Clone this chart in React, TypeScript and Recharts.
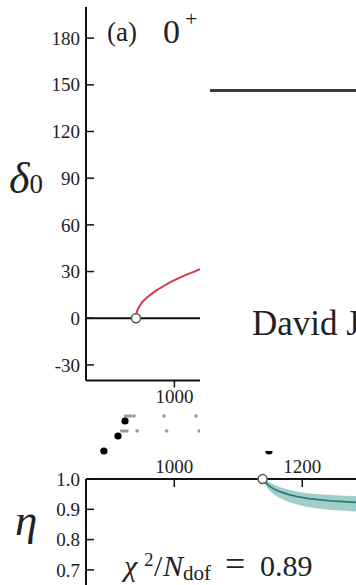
import React from 'react';
import { ComposedChart, ScatterChart, Line, Area, Scatter, XAxis, YAxis, ReferenceLine, ReferenceDot } from 'recharts';

const SERIF = '"Liberation Serif", "Times New Roman", serif';
const INK = '#222';

// panel (a): phase shift delta_0 (degrees) against E_cm (MeV)
const deltaEnergy = [940, 941, 943, 946, 950, 956, 963, 972, 982, 993, 1006, 1020, 1030, 1040];
const deltaDeg = [0, 3.5, 6, 8, 10.5, 12.8, 15.2, 17.9, 20.4, 23, 25.6, 28.2, 29.8, 31.5];
const deltaTicks = [-30, 0, 30, 60, 90, 120, 150, 180];
const deltaThreshold = 940;

// inelasticity eta with its error band
const etaEnergy = [1138, 1142, 1148, 1155, 1165, 1178, 1192, 1208, 1225, 1245, 1265, 1284];
const etaMid = [1.0, 0.99, 0.978, 0.968, 0.958, 0.949, 0.942, 0.936, 0.932, 0.928, 0.925, 0.923];
const etaHigh = [1.0, 0.997, 0.99, 0.982, 0.973, 0.965, 0.958, 0.953, 0.95, 0.947, 0.945, 0.944];
const etaLow = [1.0, 0.982, 0.963, 0.95, 0.937, 0.925, 0.916, 0.908, 0.903, 0.898, 0.895, 0.893];
const etaTicks = [0.7, 0.8, 0.9, 1.0];
const etaThreshold = 1138;
const energyTicks = [1000, 1200];

// spectrum levels peeking out between the panels
const blackE = [890, 912, 923, 1148];
const blackRow = [9, 24, 39, 9];
const grayE = [924, 928, 932, 937, 984, 1034, 918, 922, 926, 942, 988, 1039];
const grayRow = [44, 44, 44, 44, 44, 44, 29, 29, 29, 29, 29, 29];

const deltaData = deltaEnergy.map((e, i) => ({ e, delta: deltaDeg[i] }));
const etaData = etaEnergy.map((e, i) => ({ e, eta: etaMid[i], band: [etaLow[i], etaHigh[i]] }));
const blackData = blackE.map((e, i) => ({ e, row: blackRow[i] }));
const grayData = grayE.map((e, i) => ({ e, row: grayRow[i] }));

// y ticks point into the plot, labels sit left of the axis
const LeftTick = (props: any) => {
  const { x, y, payload, digits } = props;
  const label = digits ? Number(payload.value).toFixed(digits) : String(payload.value);
  return (
    <g>
      <line x1={x + 6} x2={x + 14} y1={y} y2={y} stroke="#111" strokeWidth={1.5} />
      <text x={x} y={y} dy="0.35em" textAnchor="end" fill={INK} fontSize={19} fontFamily={SERIF}>
        {label}
      </text>
    </g>
  );
};

// top axis of the eta panel: labels above, ticks down into the plot
const TopTick = (props: any) => {
  const { x, y, payload } = props;
  return (
    <g>
      <line x1={x} x2={x} y1={y + 6} y2={y + 14} stroke="#111" strokeWidth={1.5} />
      <text x={x} y={y} textAnchor="middle" fill={INK} fontSize={19} fontFamily={SERIF}>
        {payload.value}
      </text>
    </g>
  );
};

const BlackDot = (p: any) => <circle cx={p.cx} cy={p.cy} r={3.6} fill="#000" />;
const GrayDot = (p: any) => <circle cx={p.cx} cy={p.cy} r={1.8} fill="#999" />;

const axisStyle = { stroke: '#111', strokeWidth: 2 };

export default function App() {
  return (
    <div style={{ position: 'fixed', left: 0, top: 0, width: 356, height: 585, overflow: 'hidden', background: '#fff' }}>
      <div style={{ position: 'absolute', left: 0, top: 0 }}>
        <ComposedChart width={200} height={420} data={deltaData} margin={{ top: 7, right: 0, bottom: 9.5, left: 16 }}>
          <XAxis
            dataKey="e"
            type="number"
            domain={[862, 1040]}
            allowDataOverflow
            ticks={[1000]}
            height={30}
            axisLine={axisStyle}
            tickLine={{ stroke: '#111', strokeWidth: 1.5 }}
            tickSize={7}
            tick={{ fill: INK, fontSize: 19, fontFamily: SERIF }}
          />
          <YAxis
            type="number"
            domain={[-40, 200]}
            ticks={deltaTicks}
            width={70}
            axisLine={axisStyle}
            tickLine={false}
            tickSize={0}
            tickMargin={6}
            tick={<LeftTick />}
          />
          <ReferenceLine y={0} stroke="#111" strokeWidth={2} />
          <Line dataKey="delta" stroke="#d23c48" strokeWidth={2} dot={false} isAnimationActive={false} />
          <ReferenceDot x={deltaThreshold} y={0} r={4.5} fill="#fff" stroke="#555" strokeWidth={1.5} />
        </ComposedChart>
      </div>

      <div style={{ position: 'absolute', left: 0, top: 400 }}>
        <ScatterChart width={356} height={60} margin={{ top: 0, right: 0, bottom: 0, left: 86 }}>
          <XAxis type="number" dataKey="e" domain={[862, 1284]} hide />
          <YAxis type="number" dataKey="row" domain={[0, 60]} hide />
          <Scatter data={grayData} shape={GrayDot} isAnimationActive={false} />
          <Scatter data={blackData} shape={BlackDot} isAnimationActive={false} />
        </ScatterChart>
      </div>

      <div style={{ position: 'absolute', left: 0, top: 440 }}>
        <ComposedChart width={356} height={170} data={etaData} margin={{ top: 9, right: 0, bottom: 9.8, left: 16 }}>
          <XAxis
            orientation="top"
            dataKey="e"
            type="number"
            domain={[862, 1284]}
            ticks={energyTicks}
            height={30}
            axisLine={axisStyle}
            tickLine={false}
            tickSize={0}
            tickMargin={6}
            tick={<TopTick />}
          />
          <YAxis
            type="number"
            domain={[0.6, 1.0]}
            ticks={etaTicks}
            width={70}
            axisLine={axisStyle}
            tickLine={false}
            tickSize={0}
            tickMargin={6}
            tick={<LeftTick digits={1} />}
          />
          <Area dataKey="band" stroke="none" fill="#8ec6c2" fillOpacity={0.85} isAnimationActive={false} />
          <Line dataKey="eta" stroke="#2b7c79" strokeWidth={1.8} dot={false} isAnimationActive={false} />
          <ReferenceDot x={etaThreshold} y={1.0} r={4.5} fill="#fff" stroke="#555" strokeWidth={1.5} />
        </ComposedChart>
      </div>

      {/* blank patch over the right part, as in the source crop */}
      <div style={{ position: 'absolute', left: 200, top: 0, width: 156, height: 451, background: '#fff', overflow: 'hidden' }}>
        <div style={{ position: 'absolute', left: 10, top: 89, width: 146, height: 3, background: '#3a3a3a' }} />
        <div style={{ position: 'absolute', left: 52, top: 306, fontFamily: SERIF, fontSize: 35, lineHeight: 1, color: INK, whiteSpace: 'nowrap' }}>
          David J
        </div>
      </div>

      <svg width={356} height={585} style={{ position: 'absolute', left: 0, top: 0, pointerEvents: 'none' }}>
        <text x={107} y={41} fontSize={27} fill={INK} fontFamily={SERIF}>(a)</text>
        <text x={163} y={43} fontSize={34} fill={INK} fontFamily={SERIF}>0</text>
        <text x={185} y={26} fontSize={22} fill={INK} fontFamily={SERIF}>+</text>
        <text x={9} y={193} fill={INK} fontFamily={SERIF}>
          <tspan fontSize={44} fontStyle="italic">δ</tspan>
          <tspan fontSize={27}>0</tspan>
        </text>
        <text x={15} y={535} fontSize={45} fontStyle="italic" fill={INK} fontFamily={SERIF}>η</text>
        <text fill={INK} fontFamily={SERIF}>
          <tspan x={124} y={576} fontSize={30} fontStyle="italic">χ</tspan>
          <tspan x={144} y={566} fontSize={19}>2</tspan>
          <tspan x={154} y={576} fontSize={30}>/</tspan>
          <tspan x={163} y={576} fontSize={30} fontStyle="italic">N</tspan>
          <tspan x={183} y={580} fontSize={21}>dof</tspan>
          <tspan x={225} y={576} fontSize={36}>=</tspan>
          <tspan x={260} y={576} fontSize={30}>0.89</tspan>
        </text>
      </svg>
    </div>
  );
}
